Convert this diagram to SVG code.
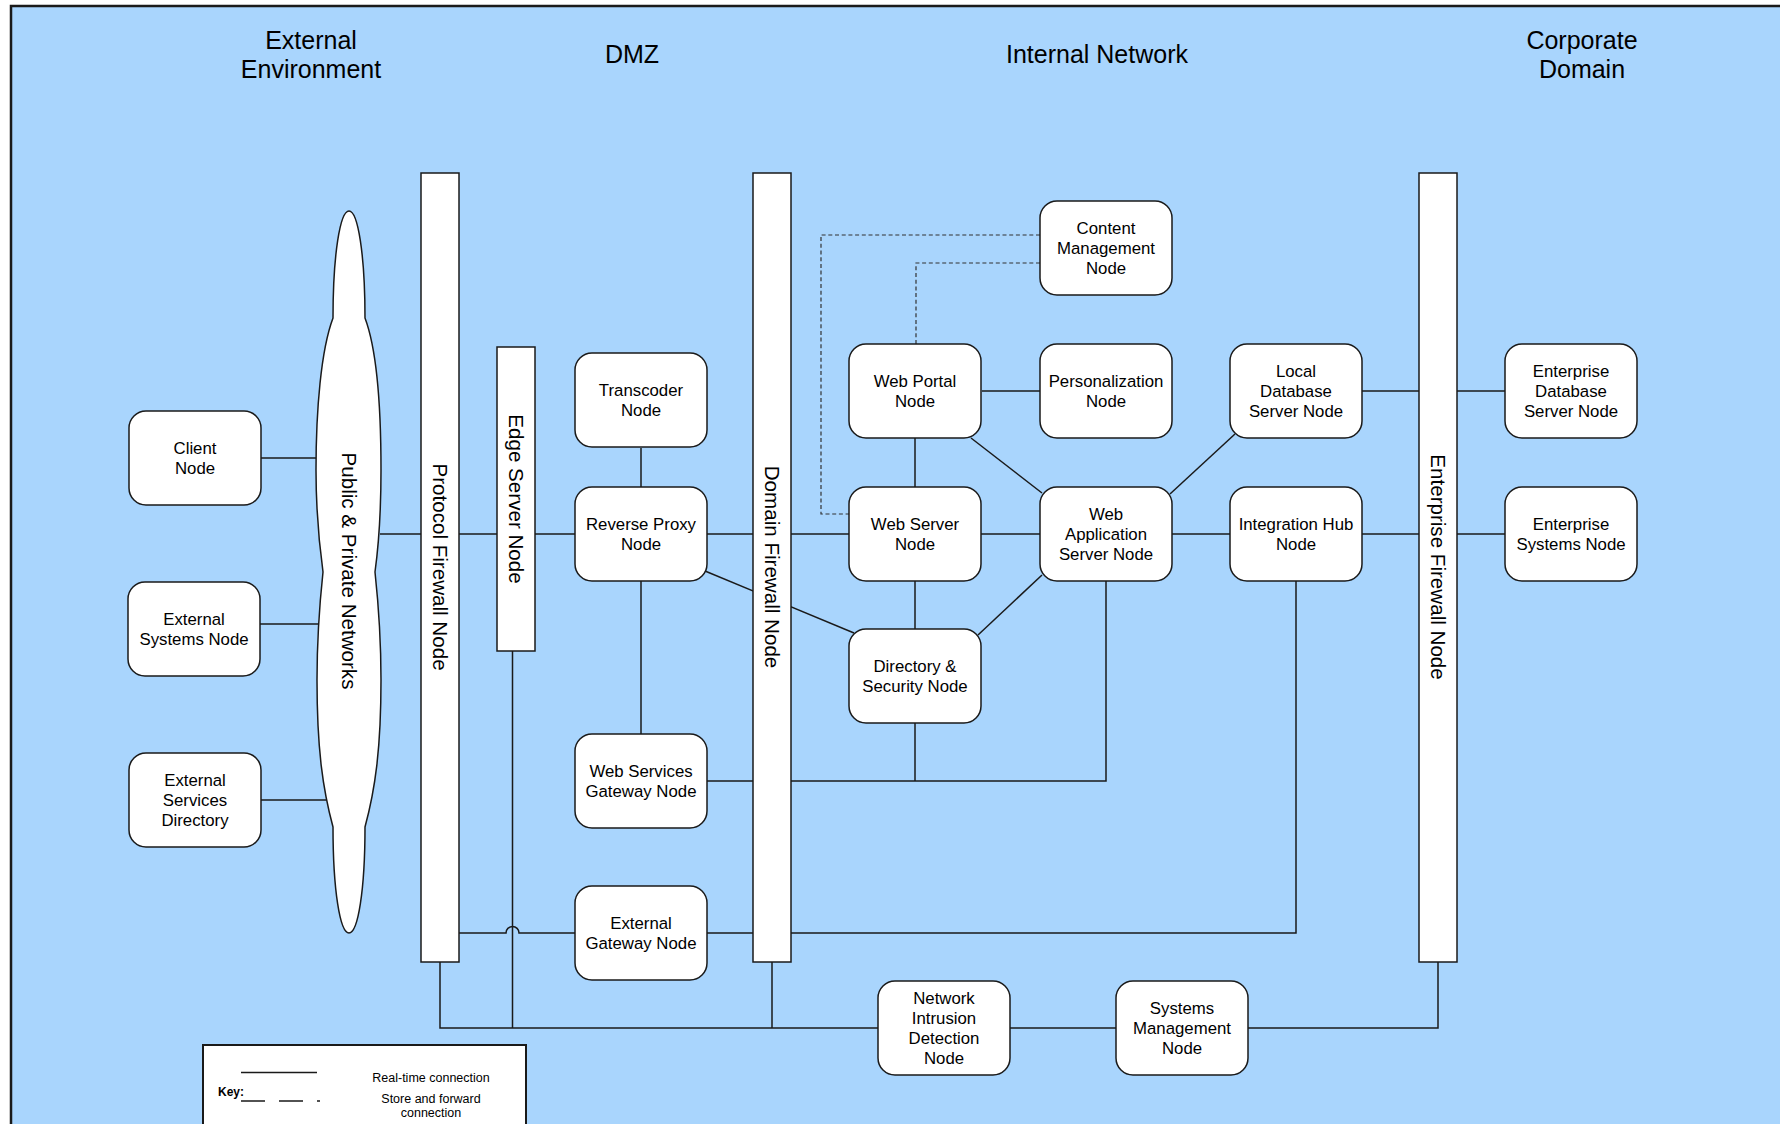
<svg xmlns="http://www.w3.org/2000/svg" width="1780" height="1124" viewBox="0 0 1780 1124">
  <style>
    .frame { fill: #A9D5FD; stroke: #1a1a1a; stroke-width: 2.5; }
    .node rect { fill: #ffffff; stroke: #1a1a1a; stroke-width: 1.5; }
    .bar rect, .bar path { fill: #ffffff; stroke: #1a1a1a; stroke-width: 1.5; }
    .label { font-family: "Liberation Sans", Arial, sans-serif; font-size: 16.8px; fill: #000; text-anchor: middle; }
    .vlabel { font-family: "Liberation Sans", Arial, sans-serif; font-size: 20.6px; fill: #000; text-anchor: middle; }
    .zone { font-family: "Liberation Sans", Arial, sans-serif; font-size: 25px; fill: #000; text-anchor: middle; }
    .rt { fill: none; stroke: #1a1a1a; stroke-width: 1.5; }
    .sf { fill: none; stroke: #333333; stroke-width: 1.2; stroke-dasharray: 4 2.7; }
    .key { font-family: "Liberation Sans", Arial, sans-serif; font-size: 12.5px; fill: #000; text-anchor: middle; }
  </style>

  <rect width="1780" height="1124" fill="#ffffff"/>
  <rect class="frame" x="11" y="6" width="1790" height="1140"/>

  <!-- zone headings -->
  <g id="zones">
    <text class="zone" x="311" y="49">External</text>
    <text class="zone" x="311" y="78">Environment</text>
    <text class="zone" x="632" y="63">DMZ</text>
    <text class="zone" x="1097" y="63">Internal Network</text>
    <text class="zone" x="1582" y="49">Corporate</text>
    <text class="zone" x="1582" y="78">Domain</text>
  </g>

  <!-- connectors -->
  <g id="connectors">
    <!-- external side -->
    <path class="rt" d="M261 458 H316"/>
    <path class="rt" d="M260 624 H318"/>
    <path class="rt" d="M261 800 H326"/>
    <!-- main horizontal trunk -->
    <path class="rt" d="M380 534 H1505"/>
    <!-- upper row -->
    <path class="rt" d="M982 391 H1040"/>
    <path class="rt" d="M1362 391 H1505"/>
    <!-- verticals -->
    <path class="rt" d="M641 448 V487"/>
    <path class="rt" d="M641 581 V734"/>
    <path class="rt" d="M915 438 V487"/>
    <path class="rt" d="M915 581 V629"/>
    <!-- diagonals -->
    <path class="rt" d="M705 571 L854 633"/>
    <path class="rt" d="M971 438 L1042 493"/>
    <path class="rt" d="M1235 434 L1170 494"/>
    <path class="rt" d="M1042 575 L978 635"/>
    <!-- web services gateway bus -->
    <path class="rt" d="M707 781 H1106 V581"/>
    <path class="rt" d="M915 723 V781"/>
    <!-- external gateway bus with hop over the edge server drop -->
    <path class="rt" d="M459 933 H506 A6.5 6.5 0 0 1 519 933 H575"/>
    <path class="rt" d="M707 933 H1296 V581"/>
    <!-- management bus -->
    <path class="rt" d="M440 962 V1028 H878"/>
    <path class="rt" d="M512.5 651 V1028"/>
    <path class="rt" d="M772 962 V1028"/>
    <path class="rt" d="M1010 1028 H1116"/>
    <path class="rt" d="M1248 1028 H1438 V962"/>
    <!-- store and forward links -->
    <path class="sf" d="M1040 235 H821 V514 H849"/>
    <path class="sf" d="M1040 263 H916 V344"/>
  </g>

  <!-- network cloud -->
  <g id="public-private-networks" class="bar">
    <path d="M349 211 C358 211 365 255 365 318 C377 350 381 410 381 470 C381 520 378 550 375 572 C378 600 381 630 381 680 C381 750 375 790 365 827 C365 890 358 933 349 933 C340 933 333 890 333 827 C323 790 317 750 317 680 C317 630 320 600 323 572 C320 550 316 520 316 470 C316 410 321 350 333 318 C333 255 340 211 349 211 Z"/>
    <text class="vlabel" transform="translate(349 571) rotate(90)" dy="0.35em">Public &amp; Private Networks</text>
  </g>

  <!-- firewall / edge bars -->
  <g id="protocol-firewall-node" class="bar">
    <rect x="421" y="173" width="38" height="789"/>
    <text class="vlabel" transform="translate(440 567) rotate(90)" dy="0.35em">Protocol Firewall Node</text>
  </g>
  <g id="edge-server-node" class="bar">
    <rect x="497" y="347" width="38" height="304"/>
    <text class="vlabel" transform="translate(516 499) rotate(90)" dy="0.35em">Edge Server Node</text>
  </g>
  <g id="domain-firewall-node" class="bar">
    <rect x="753" y="173" width="38" height="789"/>
    <text class="vlabel" transform="translate(772 567) rotate(90)" dy="0.35em">Domain Firewall Node</text>
  </g>
  <g id="enterprise-firewall-node" class="bar">
    <rect x="1419" y="173" width="38" height="789"/>
    <text class="vlabel" transform="translate(1438 567) rotate(90)" dy="0.35em">Enterprise Firewall Node</text>
  </g>

  <!-- nodes: 132 x 94 rounded boxes -->
  <g id="client-node" class="node">
    <rect x="129" y="411" width="132" height="94" rx="17"/>
    <text class="label" x="195" y="454">Client</text>
    <text class="label" x="195" y="474">Node</text>
  </g>
  <g id="external-systems-node" class="node">
    <rect x="128" y="582" width="132" height="94" rx="17"/>
    <text class="label" x="194" y="625">External</text>
    <text class="label" x="194" y="645">Systems Node</text>
  </g>
  <g id="external-services-directory" class="node">
    <rect x="129" y="753" width="132" height="94" rx="17"/>
    <text class="label" x="195" y="786">External</text>
    <text class="label" x="195" y="806">Services</text>
    <text class="label" x="195" y="826">Directory</text>
  </g>
  <g id="transcoder-node" class="node">
    <rect x="575" y="353" width="132" height="94" rx="17"/>
    <text class="label" x="641" y="396">Transcoder</text>
    <text class="label" x="641" y="416">Node</text>
  </g>
  <g id="reverse-proxy-node" class="node">
    <rect x="575" y="487" width="132" height="94" rx="17"/>
    <text class="label" x="641" y="530">Reverse Proxy</text>
    <text class="label" x="641" y="550">Node</text>
  </g>
  <g id="web-services-gateway-node" class="node">
    <rect x="575" y="734" width="132" height="94" rx="17"/>
    <text class="label" x="641" y="777">Web Services</text>
    <text class="label" x="641" y="797">Gateway Node</text>
  </g>
  <g id="external-gateway-node" class="node">
    <rect x="575" y="886" width="132" height="94" rx="17"/>
    <text class="label" x="641" y="929">External</text>
    <text class="label" x="641" y="949">Gateway Node</text>
  </g>
  <g id="web-portal-node" class="node">
    <rect x="849" y="344" width="132" height="94" rx="17"/>
    <text class="label" x="915" y="387">Web Portal</text>
    <text class="label" x="915" y="407">Node</text>
  </g>
  <g id="web-server-node" class="node">
    <rect x="849" y="487" width="132" height="94" rx="17"/>
    <text class="label" x="915" y="530">Web Server</text>
    <text class="label" x="915" y="550">Node</text>
  </g>
  <g id="directory-security-node" class="node">
    <rect x="849" y="629" width="132" height="94" rx="17"/>
    <text class="label" x="915" y="672">Directory &amp;</text>
    <text class="label" x="915" y="692">Security Node</text>
  </g>
  <g id="content-management-node" class="node">
    <rect x="1040" y="201" width="132" height="94" rx="17"/>
    <text class="label" x="1106" y="234">Content</text>
    <text class="label" x="1106" y="254">Management</text>
    <text class="label" x="1106" y="274">Node</text>
  </g>
  <g id="personalization-node" class="node">
    <rect x="1040" y="344" width="132" height="94" rx="17"/>
    <text class="label" x="1106" y="387">Personalization</text>
    <text class="label" x="1106" y="407">Node</text>
  </g>
  <g id="web-application-server-node" class="node">
    <rect x="1040" y="487" width="132" height="94" rx="17"/>
    <text class="label" x="1106" y="520">Web</text>
    <text class="label" x="1106" y="540">Application</text>
    <text class="label" x="1106" y="560">Server Node</text>
  </g>
  <g id="local-database-server-node" class="node">
    <rect x="1230" y="344" width="132" height="94" rx="17"/>
    <text class="label" x="1296" y="377">Local</text>
    <text class="label" x="1296" y="397">Database</text>
    <text class="label" x="1296" y="417">Server Node</text>
  </g>
  <g id="integration-hub-node" class="node">
    <rect x="1230" y="487" width="132" height="94" rx="17"/>
    <text class="label" x="1296" y="530">Integration Hub</text>
    <text class="label" x="1296" y="550">Node</text>
  </g>
  <g id="enterprise-database-server-node" class="node">
    <rect x="1505" y="344" width="132" height="94" rx="17"/>
    <text class="label" x="1571" y="377">Enterprise</text>
    <text class="label" x="1571" y="397">Database</text>
    <text class="label" x="1571" y="417">Server Node</text>
  </g>
  <g id="enterprise-systems-node" class="node">
    <rect x="1505" y="487" width="132" height="94" rx="17"/>
    <text class="label" x="1571" y="530">Enterprise</text>
    <text class="label" x="1571" y="550">Systems Node</text>
  </g>
  <g id="network-intrusion-detection-node" class="node">
    <rect x="878" y="981" width="132" height="94" rx="17"/>
    <text class="label" x="944" y="1004">Network</text>
    <text class="label" x="944" y="1024">Intrusion</text>
    <text class="label" x="944" y="1044">Detection</text>
    <text class="label" x="944" y="1064">Node</text>
  </g>
  <g id="systems-management-node" class="node">
    <rect x="1116" y="981" width="132" height="94" rx="17"/>
    <text class="label" x="1182" y="1014">Systems</text>
    <text class="label" x="1182" y="1034">Management</text>
    <text class="label" x="1182" y="1054">Node</text>
  </g>

  <!-- key -->
  <g id="key">
    <rect x="203" y="1045" width="323" height="100" fill="#ffffff" stroke="#1a1a1a" stroke-width="2"/>
    <path d="M241 1072.5 H317" stroke="#1a1a1a" stroke-width="1.5"/>
    <path d="M241 1101 H320" stroke="#1a1a1a" stroke-width="1.5" stroke-dasharray="24 14"/>
    <text x="218" y="1096" font-family="Liberation Sans, Arial, sans-serif" font-size="12px" font-weight="bold">Key:</text>
    <text class="key" x="431" y="1082">Real-time connection</text>
    <text class="key" x="431" y="1103">Store and forward</text>
    <text class="key" x="431" y="1117">connection</text>
  </g>
</svg>
